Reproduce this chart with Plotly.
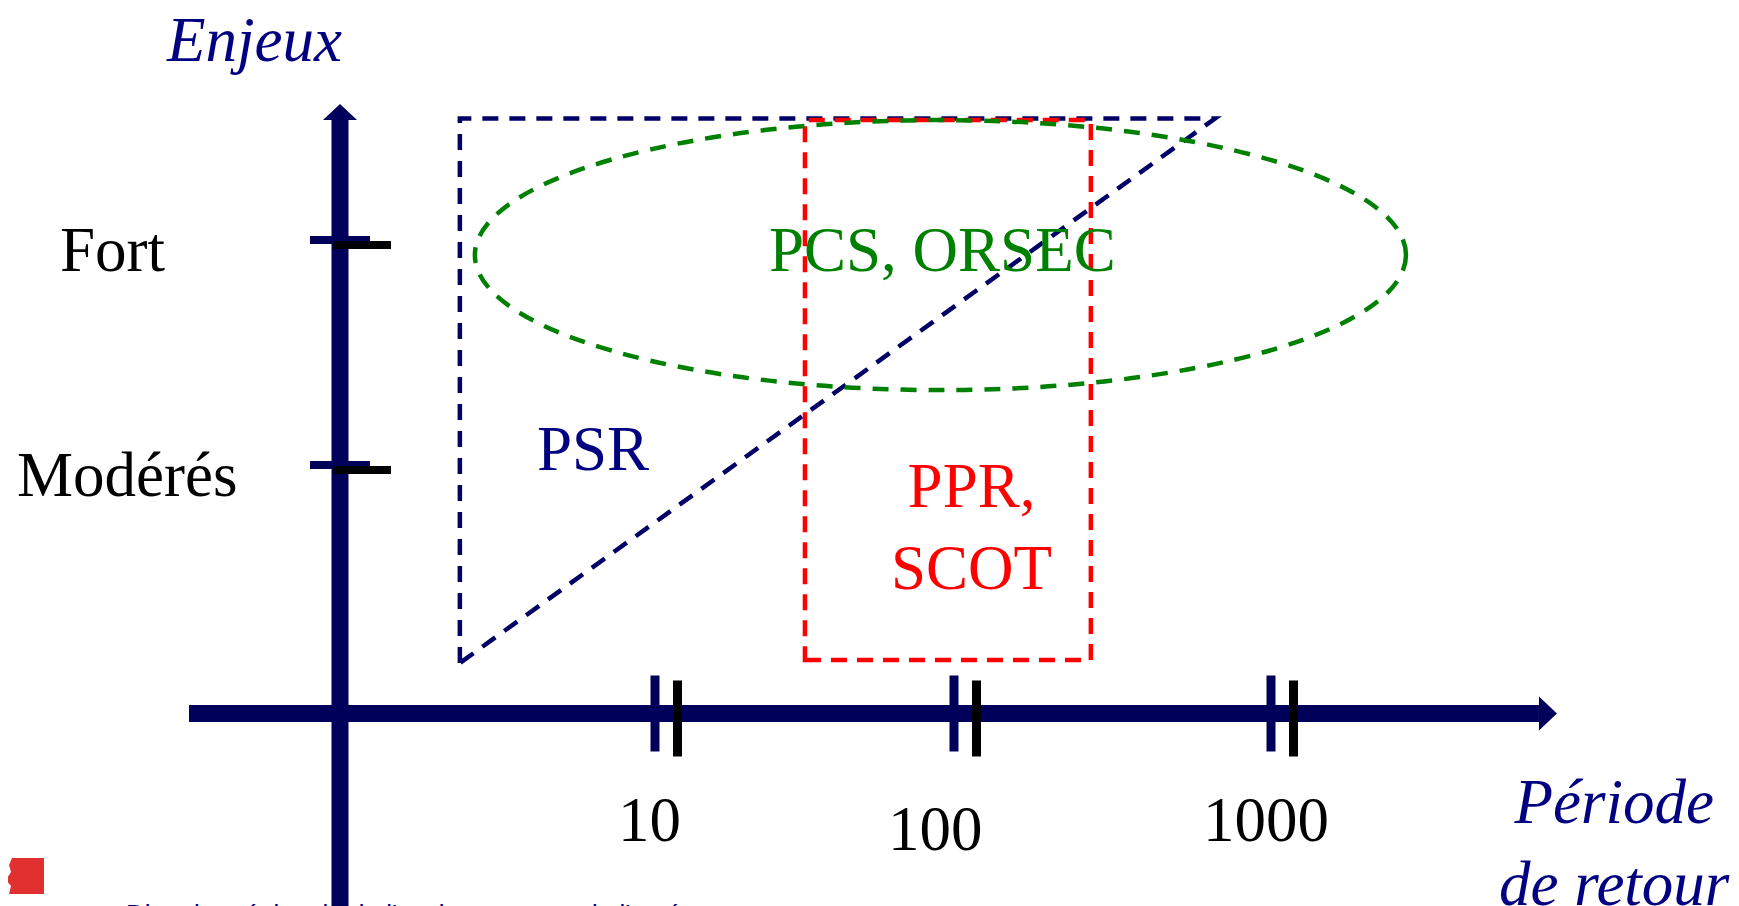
import numpy as np
import plotly.graph_objects as go

# ---------------- data ----------------
return_periods = [10, 100, 1000]            # x ticks (return period, years)
period_labels = ["10", "100", "1000"]
enjeux_levels = [1, 2]                     # y ticks (stakes level)
enjeux_labels = ["Modérés", "Fort"]

# PSR : triangle (return period, stakes)
psr_T = [2.19, 2.19, 620]
psr_E = [0.12, 2.54, 2.54]
# PPR / SCOT : rectangle
ppr_T = [28.9, 245]
ppr_E = [0.133, 2.533]
# PCS / ORSEC : ellipse
pcs_T = [2.45, 2584]
pcs_E = [1.333, 2.533]

region_names = ["PSR", "PCS, ORSEC", "PPR,<br>SCOT"]

# ---------------- layout / scale ----------------
W, H = 1739, 906          # window
OFF = 8                   # default page margin around the figure
FW, FH = W - OFF, H - OFF  # figure size
PX_DEC = 308.0      # pixels per decade
PX_LEV = 225.0      # pixels per stakes level
X0_PX = 355 - OFF   # pixel (in figure) of log10(T) = 0
Y0_PX = 690 - OFF   # pixel (in figure) of stakes = 0
X_RANGE = [-X0_PX / PX_DEC, (FW - X0_PX) / PX_DEC]
Y_RANGE = [(Y0_PX - FH) / PX_LEV, Y0_PX / PX_LEV]


def dx(p):
    return p / PX_DEC


def dy(p):
    return p / PX_LEV


NAVY = "#00005A"
TXT_NAVY = "#000080"
BLUE = "#000066"
RED = "#FF0000"
GREEN = "#008000"
SERIF = "Liberation Serif, Times New Roman, serif"
FS = 63

X_AX = -0.0487      # position of the vertical axis (log10 T)
Y_AX = -0.1044      # position of the horizontal axis (stakes)

shapes = []
# vertical axis + arrow head
y_top = 2.533
shapes.append(dict(type="rect", xref="x", yref="y", x0=X_AX - dx(8.5), x1=X_AX + dx(8.5),
                   y0=Y_RANGE[0] - 0.2, y1=y_top, fillcolor=NAVY, line=dict(width=0), layer="above"))
shapes.append(dict(type="path", xref="x", yref="y",
                   path=f"M {X_AX - dx(17)},{y_top} L {X_AX + dx(17)},{y_top} L {X_AX},{y_top + dy(16)} Z",
                   fillcolor=NAVY, line=dict(width=0), layer="above"))
# horizontal axis + arrow head
x_start, x_end = -0.539, 3.844
shapes.append(dict(type="rect", xref="x", yref="y", x0=x_start, x1=x_end,
                   y0=Y_AX - dy(8.5), y1=Y_AX + dy(8.5), fillcolor=NAVY, line=dict(width=0), layer="above"))
shapes.append(dict(type="path", xref="x", yref="y",
                   path=f"M {x_end},{Y_AX - dy(17)} L {x_end},{Y_AX + dy(17)} L {x_end + dx(18)},{Y_AX} Z",
                   fillcolor=NAVY, line=dict(width=0), layer="above"))

# x ticks (double marks); small hand-drawn offsets in pixels
tick_nudge = {"10": 0, "100": -9, "1000": 0}
for T, lab in zip(return_periods, period_labels):
    lx = np.log10(T) + dx(tick_nudge[lab])
    shapes.append(dict(type="rect", xref="x", yref="y", x0=lx - dx(12.5), x1=lx - dx(3.5),
                       y0=Y_AX - dy(38), y1=Y_AX + dy(38), fillcolor=NAVY, line=dict(width=0), layer="above"))
    shapes.append(dict(type="rect", xref="x", yref="y", x0=lx + dx(10), x1=lx + dx(19),
                       y0=Y_AX - dy(43), y1=Y_AX + dy(33), fillcolor="#000000", line=dict(width=0), layer="above"))
# y ticks (double marks)
for e in enjeux_levels:
    shapes.append(dict(type="rect", xref="x", yref="y", x0=X_AX - dx(30), x1=X_AX + dx(30),
                       y0=e - dy(4), y1=e + dy(4), fillcolor=NAVY, line=dict(width=0), layer="above"))
    shapes.append(dict(type="rect", xref="x", yref="y", x0=X_AX - dx(7), x1=X_AX + dx(51),
                       y0=e - dy(9), y1=e - dy(1), fillcolor="#000000", line=dict(width=0), layer="above"))

# PSR triangle
lt = np.log10(psr_T)
shapes.append(dict(type="path", xref="x", yref="y",
                   path=f"M {lt[0]},{psr_E[0]} L {lt[1]},{psr_E[1]} L {lt[2]},{psr_E[2]} Z",
                   line=dict(color=BLUE, width=4.5, dash="16px,11px"), layer="above"))
# PPR rectangle
lp = np.log10(ppr_T)
shapes.append(dict(type="rect", xref="x", yref="y", x0=lp[0], x1=lp[1], y0=ppr_E[0], y1=ppr_E[1],
                   line=dict(color=RED, width=4.5, dash="16px,10px"), layer="above"))
# PCS ellipse
lc = np.log10(pcs_T)
shapes.append(dict(type="circle", xref="x", yref="y", x0=lc[0], x1=lc[1], y0=pcs_E[0], y1=pcs_E[1],
                   line=dict(color=GREEN, width=4.5, dash="16px,12px"), layer="above"))


# logo (paper coords from window pixels)
def xp(p):
    return (p - OFF) / FW


def yp(p):
    return 1 - (p - OFF) / FH


logo_pts = [(12, 858), (44, 858), (44, 894), (9, 894), (11, 886), (6, 880), (11, 872), (9, 865)]
logo_path = "M " + " L ".join(f"{xp(a)},{yp(b)}" for a, b in logo_pts) + " Z"
shapes.append(dict(type="path", xref="paper", yref="paper", path=logo_path,
                   fillcolor="#E03030", line=dict(width=0)))

annotations = []
# x tick labels
nudge = {"10": (-14, 0), "100": (-36, -9), "1000": (-13, 0)}
for T, lab in zip(return_periods, period_labels):
    sx, sy = nudge[lab]
    annotations.append(dict(x=np.log10(T), y=Y_AX - dy(107), text=lab, showarrow=False,
                            xshift=sx, yshift=sy, xanchor="center", yanchor="middle",
                            font=dict(family=SERIF, size=FS, color="#000000")))
# y tick labels
y_nudge = {"Modérés": 8, "Fort": -6}
for e, lab in zip(enjeux_levels, enjeux_labels):
    annotations.append(dict(x=-0.765, y=e, text=lab, showarrow=False, yshift=-10, xshift=y_nudge[lab],
                            xanchor="center", yanchor="middle",
                            font=dict(family=SERIF, size=FS, color="#000000")))
# region labels
annotations.append(dict(x=0.773, y=1.071, text=region_names[0], showarrow=False,
                        font=dict(family=SERIF, size=FS, color=TXT_NAVY)))
annotations.append(dict(x=1.906, y=1.956, text=region_names[1], showarrow=False,
                        font=dict(family=SERIF, size=FS, color=GREEN)))
annotations.append(dict(x=2.0, y=0.724, text=region_names[2], showarrow=False,
                        font=dict(family=SERIF, size=FS, color=RED)))
# axis titles
annotations.append(dict(x=-0.328, y=2.889, text="<i>Enjeux</i>", showarrow=False,
                        font=dict(family=SERIF, size=FS, color=TXT_NAVY)))
annotations.append(dict(x=4.088, y=-0.68, text="<i>Période<br>de retour</i>", showarrow=False,
                        align="center", font=dict(family=SERIF, size=FS, color=TXT_NAVY)))
# footer (cut by the page edge)
annotations.append(dict(xref="paper", yref="paper", x=xp(124), y=yp(897), xanchor="left", yanchor="top",
                        text="Direction régionale de l'environnement, de l'aménagement",
                        showarrow=False, font=dict(family="Liberation Sans, Arial", size=26, color=TXT_NAVY)))

fig = go.Figure()
fig.add_trace(go.Scatter(x=[X_RANGE[0]], y=[Y_RANGE[0]], mode="markers",
                         marker=dict(opacity=0), hoverinfo="skip", showlegend=False))
fig.update_layout(
    width=FW, height=FH, autosize=False,
    margin=dict(l=0, r=0, t=0, b=0),
    paper_bgcolor="white", plot_bgcolor="white",
    xaxis=dict(range=X_RANGE, visible=False, fixedrange=True),
    yaxis=dict(range=Y_RANGE, visible=False, fixedrange=True),
    shapes=shapes, annotations=annotations, showlegend=False,
)
fig.write_html("out.html")
